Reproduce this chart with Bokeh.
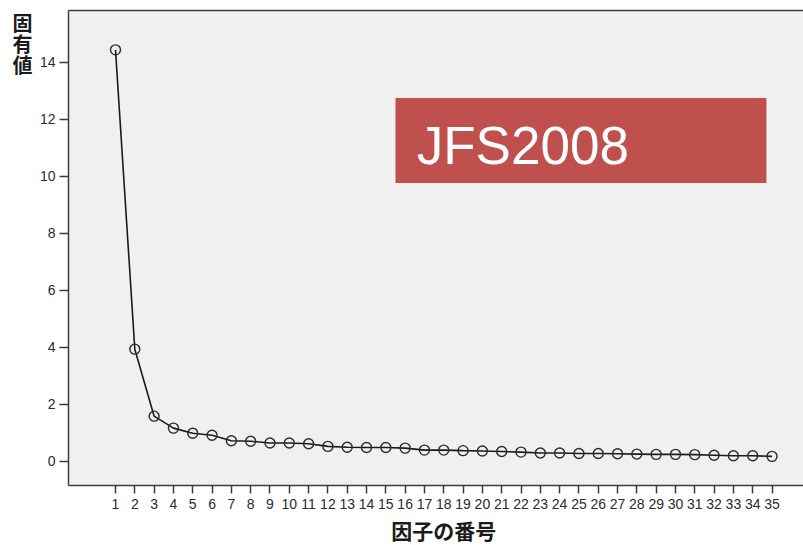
from bokeh.plotting import figure
from bokeh.models import Range1d, LinearAxis, FixedTicker, BoxAnnotation, Label
from bokeh.embed import file_html
from bokeh.resources import INLINE

# ---- data ----
factor_no = list(range(1, 36))
eigenvalues = [14.44, 3.94, 1.59, 1.17, 0.99, 0.92, 0.73, 0.71, 0.65, 0.65,
               0.62, 0.53, 0.50, 0.49, 0.49, 0.47, 0.40, 0.40, 0.38, 0.37,
               0.35, 0.33, 0.30, 0.30, 0.28, 0.28, 0.27, 0.26, 0.25, 0.25,
               0.24, 0.22, 0.20, 0.20, 0.18]
y_ticks = [0, 2, 4, 6, 8, 10, 12, 14]
x_title = "因子の番号"
y_title = ["固", "有", "値"]
badge_text = "JFS2008"

AXIS_COLOR = "#3c3c3c"
TEXT_COLOR = "#2b2b2b"
FONT = "Liberation Sans"
CJK = "Noto Sans CJK JP"

p = figure(width=803, height=545, output_backend="svg", toolbar_location=None,
           x_range=Range1d(-1.434, 36.63), y_range=Range1d(-0.842, 15.82),
           min_border_left=68, min_border_right=0, min_border_top=10,
           min_border_bottom=60, x_axis_location=None, y_axis_location=None)
p.background_fill_color = "#f0f0f0"
p.border_fill_color = "white"
p.outline_line_color = None
p.grid.visible = False

def style_axis(ax):
    ax.axis_line_color = AXIS_COLOR
    ax.axis_line_width = 1.5
    ax.major_tick_line_color = AXIS_COLOR
    ax.major_tick_line_width = 1.5
    ax.major_tick_in = 0
    ax.minor_tick_line_color = None
    ax.major_label_text_font = FONT
    ax.major_label_text_font_size = "14px"
    ax.major_label_text_color = TEXT_COLOR

def title_axis(ax, size):
    ax.axis_line_color = None
    ax.major_tick_line_color = None
    ax.major_tick_out = 0
    ax.major_tick_in = 0
    ax.minor_tick_line_color = None
    ax.major_label_text_font = FONT + ", " + CJK
    ax.major_label_text_font_size = size
    ax.major_label_text_font_style = "bold"
    ax.major_label_text_color = "#1a1a1a"

yax = LinearAxis(ticker=FixedTicker(ticks=y_ticks))
style_axis(yax)
yax.major_tick_out = 9
yax.major_label_standoff = 4
p.add_layout(yax, "left")

# stacked vertical y title, drawn as labels of a bare outer axis
y_title_pos = [15.33, 14.61, 13.89]
ytit = LinearAxis(ticker=FixedTicker(ticks=y_title_pos))
title_axis(ytit, "20px")
ytit.major_label_overrides = {v: c for v, c in zip(y_title_pos, y_title)}
ytit.major_label_standoff = 4
p.add_layout(ytit, "left")

xax = LinearAxis(ticker=FixedTicker(ticks=factor_no))
style_axis(xax)
xax.major_tick_out = 8
xax.major_label_standoff = 5
p.add_layout(xax, "below")

# x title, centred under factor 18, drawn as the label of a bare outer axis
xtit = LinearAxis(ticker=FixedTicker(ticks=[18]))
title_axis(xtit, "21px")
xtit.major_label_overrides = {18: x_title}
xtit.major_label_standoff = 8
p.add_layout(xtit, "below")

top = LinearAxis(ticker=FixedTicker(ticks=[]))
top.axis_line_color = AXIS_COLOR
top.axis_line_width = 1.5
top.major_tick_out = 0
top.major_tick_in = 0
top.minor_tick_line_color = None
top.major_label_standoff = 0
top.major_label_text_font_size = "0px"
p.add_layout(top, "above")

# data
p.line(factor_no, eigenvalues, line_color="#1a1a1a", line_width=1.6)
p.scatter(factor_no, eigenvalues, marker="circle", size=10, fill_color=None,
          line_color="#2a2a2a", line_width=1.4)

# badge
p.add_layout(BoxAnnotation(left=15.50, right=34.71, bottom=9.765, top=12.75,
                           fill_color="#c0504d", fill_alpha=1.0, line_color=None))
p.add_layout(Label(x=16.6, y=11.08, text=badge_text, text_color="white",
                   text_font=FONT, text_font_size="53px",
                   text_baseline="alphabetic", text_align="left"))

open("out.html", "w").write(file_html(p, INLINE))
